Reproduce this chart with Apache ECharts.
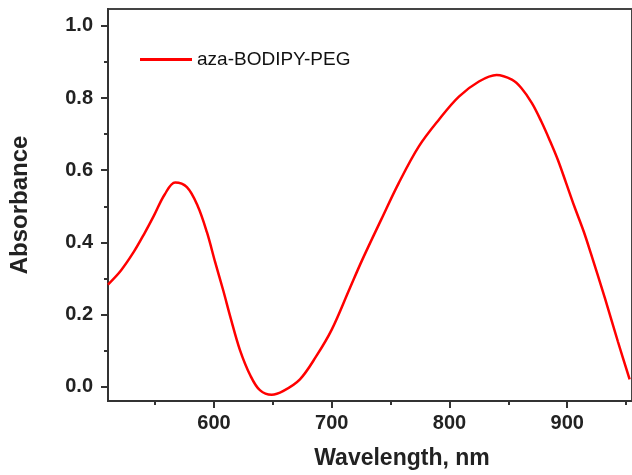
<!DOCTYPE html>
<html>
<head>
<meta charset="utf-8">
<script src="https://cdn.jsdelivr.net/npm/echarts@6/dist/echarts.min.js"></script>
<style>
html,body{margin:0;padding:0;background:#fff;}
#chart{width:632px;height:475px;}
</style>
</head>
<body>
<div id="chart"></div>
<script>
var seriesName = 'aza-BODIPY-PEG';
var wavelength = [510, 521, 532, 541, 549, 558, 567, 577, 586, 594, 601, 608, 614, 622, 631, 639, 649, 659, 673, 687, 700, 715, 726, 742, 757, 774, 791, 808, 825, 840, 853, 861, 870, 878, 885, 892, 899, 906, 914, 920, 932, 943, 953];
var absorbance = [0.283, 0.322, 0.374, 0.425, 0.474, 0.532, 0.566, 0.553, 0.502, 0.428, 0.345, 0.265, 0.192, 0.102, 0.030, -0.010, -0.023, -0.012, 0.02, 0.085, 0.158, 0.27, 0.352, 0.463, 0.565, 0.666, 0.74, 0.804, 0.846, 0.864, 0.851, 0.828, 0.786, 0.735, 0.684, 0.629, 0.565, 0.50, 0.43, 0.37, 0.245, 0.125, 0.02];
var xTickLabels = [600, 700, 800, 900];
var xMinorTicks = [550, 650, 750, 850, 950];
var yTickLabels = [0.0, 0.2, 0.4, 0.6, 0.8, 1.0];
var yMinorTicks = [0.1, 0.3, 0.5, 0.7, 0.9];

var FONT = '"Liberation Sans", Arial, sans-serif';
var AX = '#333333';
var pts = wavelength.map(function (w, i) { return [w, absorbance[i]]; });

var chart = echarts.init(document.getElementById('chart'), null, {renderer: 'canvas'});
chart.setOption({
  animation: false,
  backgroundColor: '#ffffff',
  grid: {left: 107, right: -4, top: 9, bottom: 73, show: true, borderColor: '#444', borderWidth: 2, containLabel: false},
  legend: {
    left: 140, top: 50, padding: 0,
    data: [seriesName],
    icon: 'rect', itemWidth: 52, itemHeight: 3, itemGap: 5,
    textStyle: {fontFamily: FONT, fontSize: 19, color: '#111'}
  },
  xAxis: [{
    type: 'value', min: 510, max: 955,
    name: 'Wavelength, nm', nameLocation: 'middle', nameGap: 46,
    nameTextStyle: {fontFamily: FONT, fontSize: 23, fontWeight: 'bold', color: '#222', padding: [0, 0, 0, 64]},
    axisLine: {show: true, onZero: false, lineStyle: {color: AX, width: 2}},
    axisTick: {show: true, inside: false, length: 7, lineStyle: {color: AX, width: 2}, customValues: xTickLabels},
    axisLabel: {fontFamily: FONT, fontSize: 20, fontWeight: 'bold', color: '#222', margin: 12, customValues: xTickLabels},
    splitLine: {show: false}
  }, {
    type: 'value', min: 510, max: 955, position: 'bottom',
    axisLine: {show: false, onZero: false},
    axisTick: {show: true, inside: false, length: 4, lineStyle: {color: AX, width: 2}, customValues: xMinorTicks},
    axisLabel: {show: false},
    splitLine: {show: false}
  }],
  yAxis: [{
    type: 'value', min: -0.04, max: 1.047,
    name: 'Absorbance', nameLocation: 'middle', nameGap: 76,
    nameTextStyle: {fontFamily: FONT, fontSize: 24, fontWeight: 'bold', color: '#222'},
    axisLine: {show: true, onZero: false, lineStyle: {color: AX, width: 2}},
    axisTick: {show: true, inside: false, length: 7, lineStyle: {color: AX, width: 2}, customValues: yTickLabels},
    axisLabel: {fontFamily: FONT, fontSize: 20, fontWeight: 'bold', color: '#222', margin: 15, customValues: yTickLabels,
      formatter: function (v) { return v.toFixed(1); }},
    splitLine: {show: false}
  }, {
    type: 'value', min: -0.04, max: 1.047, position: 'left',
    axisLine: {show: false, onZero: false},
    axisTick: {show: true, inside: false, length: 4, lineStyle: {color: AX, width: 2}, customValues: yMinorTicks},
    axisLabel: {show: false},
    splitLine: {show: false}
  }],
  series: [{
    name: seriesName, type: 'line', data: pts,
    xAxisIndex: 0, yAxisIndex: 0,
    smooth: 0.35, symbol: 'none', showSymbol: false,
    lineStyle: {color: '#ff0000', width: 2.5},
    itemStyle: {color: '#ff0000'}
  }]
});
</script>
</body>
</html>
